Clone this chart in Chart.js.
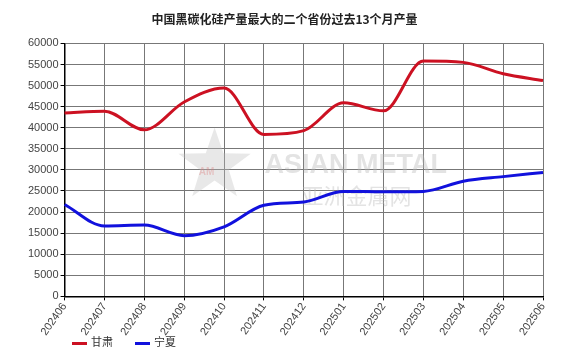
<!DOCTYPE html>
<html>
<head>
<meta charset="utf-8">
<script src="https://cdn.jsdelivr.net/npm/chart.js@4/dist/chart.umd.min.js"></script>
<style>
    html, body { margin: 0; padding: 0; background: #fff; }
    #wrap { width: 584px; height: 355px; position: relative; }
    #legend { position: absolute; left: 72px; top: 333px; font: 11px "Noto Sans CJK SC", sans-serif; color: #333; }
    #legend span.item { display: inline-block; margin-right: 22px; }
    #legend i { display: inline-block; width: 15px; height: 3px; vertical-align: middle; margin-right: 4px; }
</style>
</head>
<body>
<div id="wrap">
    <canvas id="output-chart"></canvas>
    <div id="legend"></div>
</div>
<script>
// 月份与两省产量（吨）
const months = ['202406', '202407', '202408', '202409', '202410', '202411', '202412',
                '202501', '202502', '202503', '202504', '202505', '202506'];
const gansu = [43500, 43900, 39500, 46100, 49400, 38400, 39300, 45900, 44000, 55800, 55500, 52800, 51200];
const ningxia = [21800, 16700, 16900, 14400, 16500, 21600, 22400, 24900, 24800, 24900, 27300, 28400, 29400];
const seriesNames = ['甘肃', '宁夏'];
const seriesColors = ['#cc1122', '#1111dd'];
const chartTitle = '中国黑碳化硅产量最大的二个省份过去13个月产量';

// 水印 (ASIAN METAL)
const watermark = {
    id: 'watermark',
    beforeDatasetsDraw(chart) {
        const { ctx, chartArea } = chart;
        const cx = chartArea.left + 150, cy = chartArea.top + 122;
        ctx.save();
        // 星形
        ctx.fillStyle = 'rgba(190,190,190,0.35)';
        ctx.beginPath();
        for (let i = 0; i < 10; i++) {
            const r = i % 2 === 0 ? 38 : 15;
            const a = -Math.PI / 2 + i * Math.PI / 5;
            const px = cx + r * Math.cos(a), py = cy + r * Math.sin(a);
            if (i === 0) ctx.moveTo(px, py); else ctx.lineTo(px, py);
        }
        ctx.closePath();
        ctx.fill();
        ctx.fillStyle = 'rgba(220,120,120,0.35)';
        ctx.font = 'bold 10px "Liberation Sans", Arial, sans-serif';
        ctx.textAlign = 'center';
        ctx.fillText('AM', cx - 8, cy + 10);
        ctx.fillStyle = 'rgba(185,185,185,0.4)';
        ctx.textAlign = 'left';
        ctx.textBaseline = 'middle';
        ctx.font = 'bold 27px "Liberation Sans", Arial, sans-serif';
        ctx.fillText('ASIAN METAL', chartArea.left + 200, cy);
        ctx.font = '22px "Noto Sans CJK SC", sans-serif';
        ctx.fillText('亚洲金属网', chartArea.left + 237, cy + 30);
        ctx.restore();
    }
};

const gridOpts = {
    color: '#777',
    borderDash: [2, 2],
    tickColor: '#000',
    tickBorderDash: [],
    tickLength: 4
};

const canvas = document.getElementById('output-chart');
new Chart(canvas, {
    type: 'line',
    data: {
        labels: months,
        datasets: [{
            label: seriesNames[0],
            data: gansu,
            borderColor: seriesColors[0],
            borderWidth: 3,
            pointRadius: 0,
            cubicInterpolationMode: 'monotone',
            fill: false
        }, {
            label: seriesNames[1],
            data: ningxia,
            borderColor: seriesColors[1],
            borderWidth: 3,
            pointRadius: 0,
            cubicInterpolationMode: 'monotone',
            fill: false
        }]
    },
    options: {
        responsive: true,
        maintainAspectRatio: false,
        animation: false,
        layout: { padding: { left: 26, right: 41, top: 0, bottom: 17 } },
        plugins: {
            title: {
                display: true,
                text: chartTitle,
                color: '#222',
                font: { family: '"Noto Sans CJK SC", sans-serif', size: 12, weight: 'bold' },
                padding: { top: 12, bottom: 17 }
            },
            legend: { display: false },
            tooltip: { enabled: false }
        },
        scales: {
            x: {
                offset: false,
                grid: gridOpts,
                border: { color: '#000', width: 1.5 },
                ticks: {
                    color: '#444',
                    minRotation: 55,
                    maxRotation: 55,
                    font: { family: '"Liberation Sans", Arial, sans-serif', size: 11 },
                    padding: 0
                }
            },
            y: {
                min: 0,
                max: 60000,
                grid: gridOpts,
                border: { color: '#000', width: 1.5 },
                ticks: {
                    stepSize: 5000,
                    color: '#444',
                    padding: 2,
                    font: { family: '"Liberation Sans", Arial, sans-serif', size: 11 },
                    callback: function(value) {
                        return String(value);
                    }
                }
            }
        }
    },
    plugins: [watermark]
});

// 图例
const legendBox = document.getElementById('legend');
seriesNames.forEach(function(name, i) {
    const item = document.createElement('span');
    item.className = 'item';
    item.innerHTML = '<i style="background:' + seriesColors[i] + '"></i>' + name;
    legendBox.appendChild(item);
});
</script>
</body>
</html>
